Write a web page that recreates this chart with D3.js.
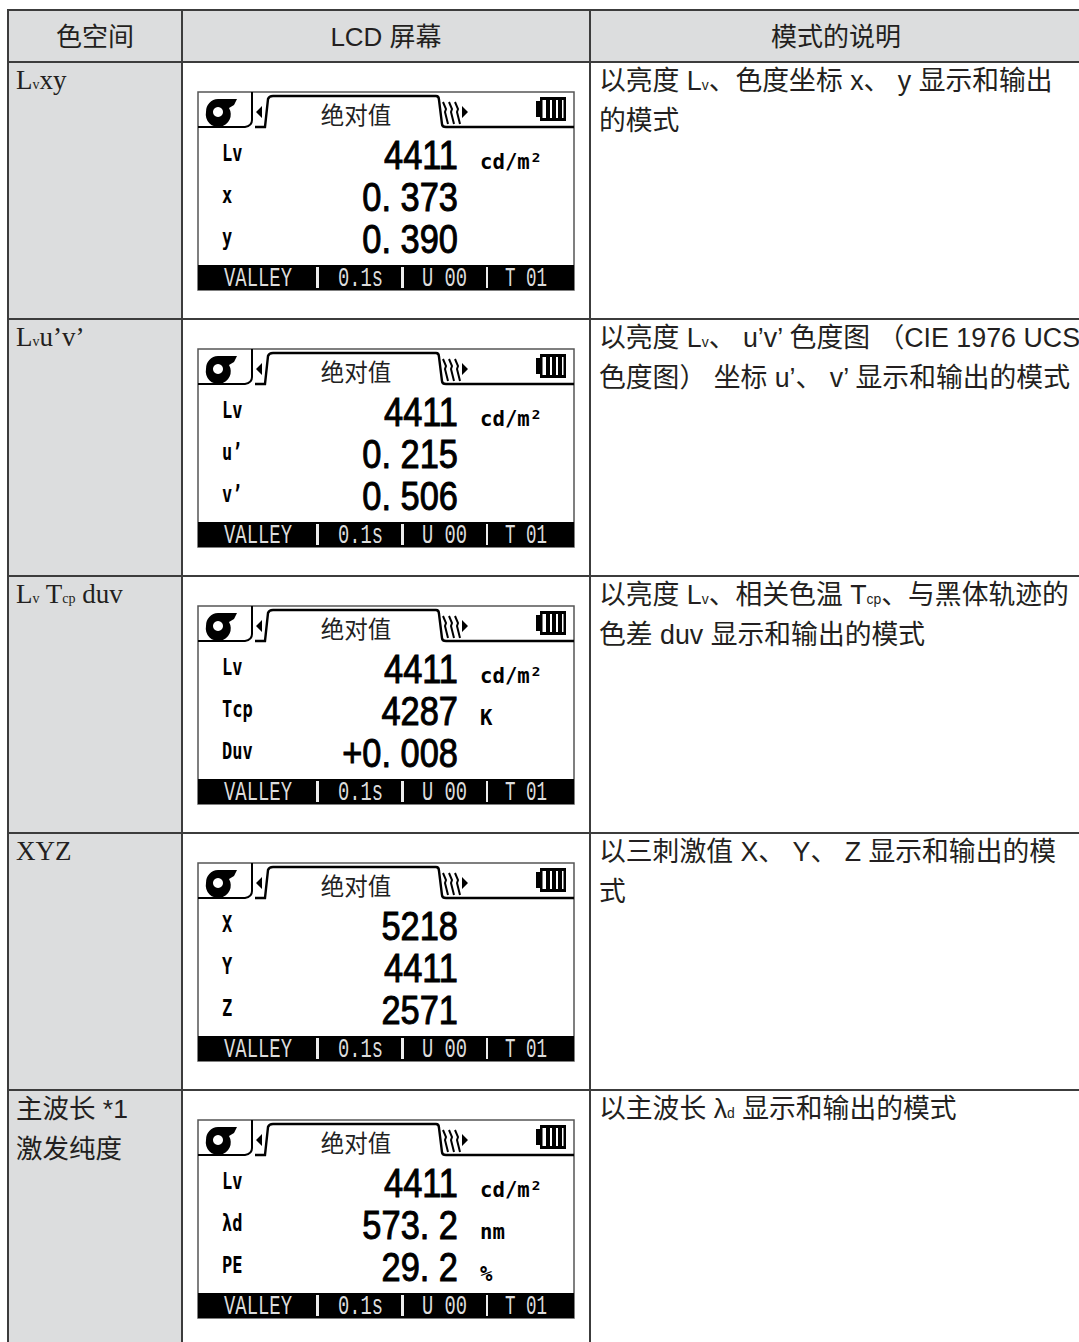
<!DOCTYPE html>
<html><head><meta charset="utf-8">
<script src="https://cdn.jsdelivr.net/npm/d3@7/dist/d3.min.js"></script>
<style>html,body{margin:0;padding:0;background:#fff;overflow:hidden}svg{display:block}</style>
</head><body><div id="c"></div>
<script>
const headers = ["色空间", "LCD 屏幕", "模式的说明"];
const spaces = [["L~v~xy"], ["L~v~u’v’"], ["L~v~ T~cp~ duv"], ["XYZ"], ["主波长 *1", "激发纯度"]];
const rowLabels = [["Lv","x","y"],["Lv","u’","v’"],["Lv","Tcp","Duv"],["X","Y","Z"],["Lv","λd","PE"]];
const rowValues = [["4411","0. 373","0. 390"],["4411","0. 215","0. 506"],["4411","4287","+0. 008"],["5218","4411","2571"],["4411","573. 2","29. 2"]];
const rowUnits = [["cd/m²","",""],["cd/m²","",""],["cd/m²","K",""],["","",""],["cd/m²","nm","%"]];
const descriptions = [
  ["以亮度 L~v~、色度坐标 x、 y 显示和输出","的模式"],
  ["以亮度 L~v~、 u’v’ 色度图 （CIE 1976 UCS","色度图） 坐标 u’、 v’ 显示和输出的模式"],
  ["以亮度 L~v~、相关色温 T~cp~、与黑体轨迹的","色差 duv 显示和输出的模式"],
  ["以三刺激值 X、 Y、 Z 显示和输出的模","式"],
  ["以主波长 λ~d~ 显示和输出的模式"]
];
const tabTitle = "绝对值";
const statusTexts = ["VALLEY","0.1s","U 00","T 01"];

const W = 1079, H = 1342, line = "#3c3c3c", gray = "#dcddde";
const sans = "'Liberation Sans','Noto Sans CJK SC',sans-serif";
const serif = "'Liberation Serif','Noto Serif CJK SC','Noto Sans CJK SC',serif";
const colX = [8, 182, 590, 1090];
const rowH = 257, headBottom = 62, tableTop = 10;
const y = d3.scaleLinear().domain([0, 1]).range([headBottom, headBottom + rowH]);
const svg = d3.select("#c").append("svg").attr("width", W).attr("height", H).attr("viewBox",`0 0 ${W} ${H}`);

function rich(sel, s, size) {
  s.split("~").forEach((p, i) => {
    if (!p) return;
    const t = sel.append("tspan").text(p);
    if (i % 2) t.attr("font-size", size * 0.52);
  });
}
// backgrounds
svg.append("rect").attr("x", colX[0]).attr("y", tableTop).attr("width", W).attr("height", headBottom - tableTop).attr("fill", gray);
svg.append("rect").attr("x", colX[0]).attr("y", headBottom).attr("width", colX[1]-colX[0]).attr("height", H).attr("fill", gray);
// grid
const hy = [tableTop, ...d3.range(0, 5).map(i => y(i))];
svg.selectAll("line.h").data(hy).join("line").attr("class","h").attr("x1", colX[0]-1).attr("x2", W).attr("y1", d=>d).attr("y2", d=>d).attr("stroke", line).attr("stroke-width", 2);
svg.selectAll("line.v").data(colX.slice(0,3)).join("line").attr("class","v").attr("x1", d=>d).attr("x2", d=>d).attr("y1", tableTop).attr("y2", H).attr("stroke", line).attr("stroke-width", 2);
// header
const headCx = [95, 386, 836];
svg.selectAll("text.head").data(headers).join("text").attr("class","head")
  .attr("x",(d,i)=>headCx[i]).attr("y",46).attr("text-anchor","middle")
  .attr("font-family",sans).attr("font-size",26).attr("fill","#231f20").text(d=>d);
// rows
spaces.forEach((lines, i) => {
  const g = svg.append("g");
  const cjk = i === 4;
  lines.forEach((l, k) => {
    const fs = cjk ? 26.5 : 27;
    const t = g.append("text").attr("x", 16).attr("y", y(i) + (cjk ? 28 + k*40 : 27))
      .attr("font-family", cjk ? sans : serif).attr("font-size", fs).attr("fill", "#231f20");
    rich(t, l, fs);
  });
  descriptions[i].forEach((l, k) => {
    const t = svg.append("text").attr("x", 599).attr("y", y(i) + 28 + k*40)
      .attr("font-family", sans).attr("font-size", 26.8).attr("fill", "#231f20");
    rich(t, l, 26.8);
  });
  lcd(svg.append("g").attr("transform", `translate(0,${y(i) - y(0)})`), i);
});

function lcd(g, i) {
  g.append("rect").attr("x",198).attr("y",92).attr("width",376).attr("height",198).attr("fill","#fff").attr("stroke","#555").attr("stroke-width",1.5);
  // icon: blower disc
  g.append("path").attr("d","M206 112 a12.5 12.5 0 0 1 12-13 l19 0 l-3 6 l-5 3 a12.5 12.5 0 1 1 -23 4z M218 107 a5 5 0 1 0 .01 0z").attr("fill","#000").attr("fill-rule","evenodd");
  // tab outline
  const tab = d3.path();
  tab.moveTo(198,127); tab.lineTo(245,127); tab.quadraticCurveTo(252,126,252,120); tab.lineTo(252,92);
  g.append("path").attr("d",tab.toString()).attr("fill","none").attr("stroke","#000").attr("stroke-width",2);
  const t2 = d3.path();
  t2.moveTo(255,127); t2.lineTo(265,127); t2.lineTo(268,99); t2.quadraticCurveTo(269,96,273,96);
  t2.lineTo(436,96); t2.quadraticCurveTo(439,96,439,100); t2.lineTo(442,124); t2.quadraticCurveTo(442,127,446,127); t2.lineTo(574,127);
  g.append("path").attr("d",t2.toString()).attr("fill","none").attr("stroke","#000").attr("stroke-width",2.4);
  // arrows
  g.append("path").attr("d","M262 106 l-6 6 l6 6z M462 106 l6 6 l-6 6z").attr("fill","#000");
  g.selectAll("path.z").data([445,451,457]).join("path").attr("class","z").attr("d",d=>`M${d-2} 102 l3 7 l-1 3 l3 12`).attr("fill","none").attr("stroke","#000").attr("stroke-width",2);
  // battery
  g.append("path").attr("d","M540 97 h26 v24 h-26 v-4 h-4 v-16 h4z").attr("fill","#000");
  g.append("rect").attr("x",542.5).attr("y",100).attr("width",21).attr("height",18).attr("fill","#fff");
  g.selectAll("rect.b").data([546,552,558]).join("rect").attr("class","b").attr("x",d=>d).attr("y",100).attr("width",4).attr("height",18).attr("fill","#000");
  g.append("text").attr("x",356).attr("y",124).attr("text-anchor","middle").attr("font-family","'Noto Sans CJK SC',sans-serif").attr("font-size",23.5).attr("fill","#222").text(tabTitle);
  // rows
  const base = [169,211,253];
  const lineBase = [161,203,245];
  rowLabels[i].forEach((t, k) => {
    g.append("text").attr("transform",`translate(222,${lineBase[k]}) scale(.74,1)`).attr("font-family","'DejaVu Sans Mono',monospace").attr("font-weight","bold").attr("font-size",23).attr("fill","#000").text(t);
  });
  rowValues[i].forEach((t, k) => {
    g.append("text").attr("transform",`translate(458,${base[k]}) scale(.86,1)`).attr("text-anchor","end").attr("font-family","'Liberation Sans',sans-serif").attr("font-size",40).attr("stroke","#000").attr("stroke-width",1).attr("fill","#000").text(t);
  });
  rowUnits[i].forEach((t, k) => {
    if(!t) return;
    g.append("text").attr("transform",`translate(480,${base[k]}) scale(.94,1)`).attr("font-family","'DejaVu Sans Mono',monospace").attr("font-weight","bold").attr("font-size",22).attr("fill","#000").text(t);
  });
  // status bar
  g.append("rect").attr("x",198).attr("y",265).attr("width",376).attr("height",25).attr("fill","#000");
  const sx = [224,338,422,505], sw = [68,45,45,42];
  statusTexts.forEach((t,k)=>{
    g.append("text").attr("x",sx[k]).attr("y",286).attr("textLength",sw[k]).attr("lengthAdjust","spacingAndGlyphs").attr("font-family","'Liberation Mono',monospace").attr("font-size",27).attr("fill","#ddd").text(t);
  });
  g.selectAll("rect.sep").data([[316,3],[401,3],[486,2]]).join("rect").attr("class","sep").attr("x",d=>d[0]).attr("y",267).attr("width",d=>d[1]).attr("height",21).attr("fill","#eee");
}
</script></body></html>
